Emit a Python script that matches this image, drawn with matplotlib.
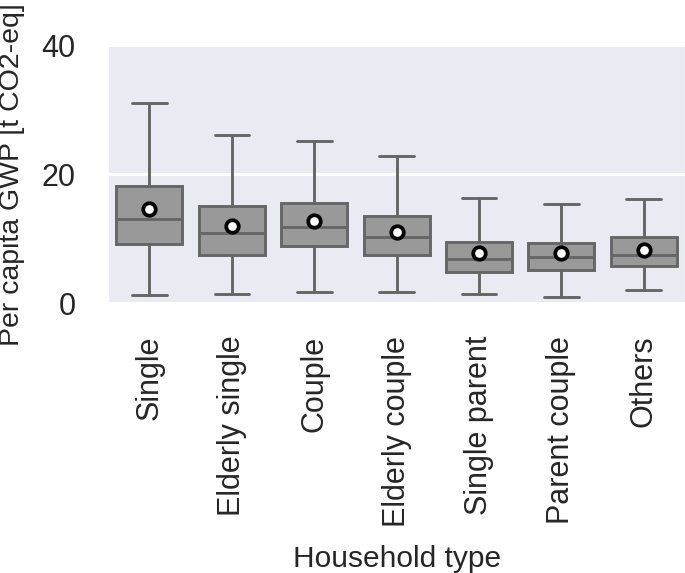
import numpy as np
import matplotlib
matplotlib.use("Agg")
import matplotlib.pyplot as plt
import seaborn as sns

# household types and box statistics (t CO2-eq per capita)
household = ['Single', 'Elderly single', 'Couple', 'Elderly couple',
             'Single parent', 'Parent couple', 'Others']
whislo = [1.2, 1.4, 1.7, 1.7, 1.4, 0.9, 2.0]
q1 = [9.2, 7.4, 8.8, 7.4, 4.8, 5.2, 5.7]
med = [13.1, 10.8, 11.8, 10.3, 6.8, 7.2, 7.4]
q3 = [18.2, 15.1, 15.5, 13.5, 9.5, 9.4, 10.2]
whishi = [31.1, 26.1, 25.2, 22.8, 16.3, 15.4, 16.2]
mean = [14.6, 12.0, 12.8, 11.1, 7.7, 7.7, 8.2]

sns.set_style("darkgrid")
plt.rcParams['font.family'] = ['Liberation Sans', 'DejaVu Sans']

stats = []
for i in range(len(household)):
    stats.append(dict(label=household[i], whislo=whislo[i], q1=q1[i],
                      med=med[i], q3=q3[i], whishi=whishi[i],
                      mean=mean[i], fliers=[]))

fig = plt.figure(figsize=(6.85, 5.73), dpi=100)
ax = fig.add_axes([0.158, 0.471, 0.842, 0.45])

edge = '#666666'
lw = 2.1
ax.bxp(stats, positions=np.arange(len(household)), widths=0.8,
       patch_artist=True, showmeans=True, showfliers=False,
       boxprops=dict(facecolor='#999999', edgecolor=edge, linewidth=lw),
       whiskerprops=dict(color=edge, linewidth=lw),
       capprops=dict(color=edge, linewidth=lw),
       medianprops=dict(color=edge, linewidth=lw),
       meanprops=dict(marker='o', markerfacecolor='white',
                      markeredgecolor='black', markersize=9,
                      markeredgewidth=2.7),
       capwidths=0.42)

ax.set_xlim(-0.5, len(household) - 0.5)
ax.set_ylim(0, 40)
ax.set_yticks([0, 20, 40])
ax.set_xticks(np.arange(len(household)), labels=household, rotation=90)
ax.tick_params(axis='x', labelsize=22, pad=20)
ax.tick_params(axis='y', labelsize=22, pad=20)
ax.xaxis.grid(False)
ax.yaxis.grid(True, color='white', linewidth=2.2)
ax.set_xlabel("Household type", fontsize=21.5)
ax.set_ylabel("Per capita GWP [t CO2-eq]", fontsize=20.5)
ax.yaxis.set_label_coords(-0.145, 0.5)
ax.xaxis.set_label_coords(0.5, -0.938)

fig.savefig("out.png", dpi=100)
